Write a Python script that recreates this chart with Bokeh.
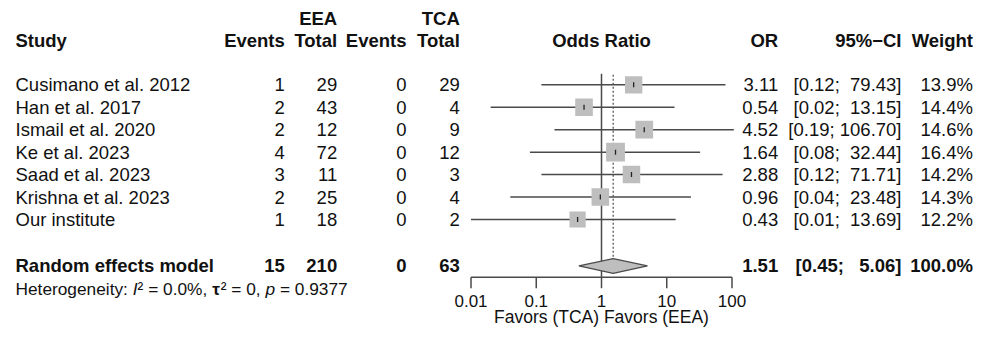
import numpy as np
from bokeh.plotting import figure
from bokeh.models import Range1d, LogScale
from bokeh.core.properties import value
from bokeh.embed import file_html
from bokeh.resources import INLINE

# ---------------- data ----------------
studies = ["Cusimano et al. 2012", "Han et al. 2017", "Ismail et al. 2020",
           "Ke et al. 2023", "Saad et al. 2023", "Krishna et al. 2023", "Our institute"]
eea_events = [1, 2, 2, 4, 3, 2, 1]
eea_total = [29, 43, 12, 72, 11, 25, 18]
tca_events = [0, 0, 0, 0, 0, 0, 0]
tca_total = [29, 4, 9, 12, 3, 4, 2]
odds_ratio = [3.11, 0.54, 4.52, 1.64, 2.88, 0.96, 0.43]
ci_lower = [0.12, 0.02, 0.19, 0.08, 0.12, 0.04, 0.01]
ci_upper = [79.43, 13.15, 106.70, 32.44, 71.71, 23.48, 13.69]
weights = [13.9, 14.4, 14.6, 16.4, 14.2, 14.3, 12.2]

model_label = "Random effects model"
model_eea_events = 15
model_eea_total = 210
model_tca_events = 0
model_tca_total = 63
model_or = 1.51
model_lower = 0.45
model_upper = 5.06
model_weight = 100.0

het_i2 = 0.0
het_tau2 = 0
het_p = 0.9377

axis_ticks = [0.01, 0.1, 1, 10, 100]
axis_tick_labels = ["0.01", "0.1", "1", "10", "100"]
axis_label = "Favors (TCA) Favors (EEA)"

header_top = ["EEA", "TCA"]
header_cols = ["Study", "Events", "Total", "Events", "Total", "Odds Ratio", "OR", "95%\u2212CI", "Weight"]

# ---------------- layout ----------------
W, H = 973, 329
ORIGIN = 0                    # screen offset of the figure origin
ROW_PX = 22.45                # px per row
ROW0_PX = 84.3                # screen y of first study row
DECADE_PX = 65.25             # px per decade of odds ratio
OR1_PX = 601.0                # screen x of OR = 1

X_STUDY, X_EEA_EV, X_EEA_TOT, X_TCA_EV, X_TCA_TOT = 15, 284.3, 336.7, 406.0, 459.3
X_OR, X_CI, X_W = 777.7, 901.0, 972.5

Y_HEAD1, Y_HEAD2 = -2.94, -1.97
Y_MODEL = 8.07
Y_HET = 9.09
Y_AXIS = 8.57
TICK_LEN = 0.49
Y_TICKLAB = 9.62
Y_XLAB = 10.36
DIAM_H = 0.325

FONT = value("Liberation Sans")
FS = "18.5px"
LINE = "#4a4a4a"
GREY = "#bebebe"
TXT = "#111111"

p = figure(width=W, height=H, output_backend="svg", toolbar_location=None,
           x_range=Range1d(ORIGIN, ORIGIN + W),
           y_range=Range1d((ORIGIN + H - ROW0_PX) / ROW_PX, (ORIGIN - ROW0_PX) / ROW_PX),
           min_border=0, outline_line_color=None)
p.extra_x_ranges = {"or": Range1d(10 ** ((ORIGIN - OR1_PX) / DECADE_PX),
                                  10 ** ((ORIGIN + W - OR1_PX) / DECADE_PX))}
p.extra_x_scales = {"or": LogScale()}
p.axis.visible = False
p.grid.visible = False
p.background_fill_color = "white"
p.border_fill_color = "white"

rows = list(range(len(studies)))


def txt(x, y, text, align="left", bold=False, size=FS, rng="default", style=None):
    n = len(text)
    xs = x if isinstance(x, list) else [x] * n
    ys = y if isinstance(y, list) else [y] * n
    p.text(x=xs, y=ys, text=text, text_font=FONT, text_font_size=size,
           text_align=align, text_baseline="middle", text_color=TXT,
           text_font_style=style if style else ("bold" if bold else "normal"),
           x_range_name=rng)


# headers
txt(X_EEA_TOT, Y_HEAD1, [header_top[0]], "right", True)
txt(X_TCA_TOT, Y_HEAD1, [header_top[1]], "right", True)
txt(X_STUDY, Y_HEAD2, [header_cols[0]], "left", True)
txt(X_EEA_EV, Y_HEAD2, [header_cols[1]], "right", True)
txt(X_EEA_TOT, Y_HEAD2, [header_cols[2]], "right", True)
txt(X_TCA_EV, Y_HEAD2, [header_cols[3]], "right", True)
txt(X_TCA_TOT, Y_HEAD2, [header_cols[4]], "right", True)
txt(1, Y_HEAD2, [header_cols[5]], "center", True, rng="or")
txt(X_OR, Y_HEAD2, [header_cols[6]], "right", True)
txt(X_CI, Y_HEAD2, [header_cols[7]], "right", True)
txt(X_W, Y_HEAD2, [header_cols[8]], "right", True)

# study rows
txt(X_STUDY, rows, studies, "left")
txt(X_EEA_EV, rows, [str(v) for v in eea_events], "right")
txt(X_EEA_TOT, rows, [str(v) for v in eea_total], "right")
txt(X_TCA_EV, rows, [str(v) for v in tca_events], "right")
txt(X_TCA_TOT, rows, [str(v) for v in tca_total], "right")

NB = "\u00a0"
up_width = max(len(f"{u:.2f}") for u in ci_upper + [model_upper])


def ci_str(lo, up):
    return "[" + f"{lo:.2f};" + NB + f"{up:.2f}".rjust(up_width).replace(" ", NB) + "]"


txt(X_OR, rows, [f"{v:.2f}" for v in odds_ratio], "right")
txt(X_CI, rows, [ci_str(l, u) for l, u in zip(ci_lower, ci_upper)], "right")
txt(X_W, rows, [f"{w:.1f}%" for w in weights], "right")

# model row
txt(X_STUDY, Y_MODEL, [model_label], "left", True)
txt(X_EEA_EV, Y_MODEL, [str(model_eea_events)], "right", True)
txt(X_EEA_TOT, Y_MODEL, [str(model_eea_total)], "right", True)
txt(X_TCA_EV, Y_MODEL, [str(model_tca_events)], "right", True)
txt(X_TCA_TOT, Y_MODEL, [str(model_tca_total)], "right", True)
txt(X_OR, Y_MODEL, [f"{model_or:.2f}"], "right", True)
txt(X_CI, Y_MODEL, [ci_str(model_lower, model_upper)], "right", True)
txt(X_W, Y_MODEL, [f"{model_weight:.1f}%"], "right", True)

# heterogeneity line in pieces (mixed styles)
CW = {"H": .722, "e": .556, "t": .278, "r": .333, "o": .556, "g": .556, "n": .556,
      "i": .222, "y": .5, ":": .278, " ": .278, "I": .278, "\u00b2": .333, "=": .584,
      ".": .278, "%": .889, ",": .278, "\u03c4": .5, "p": .556}
HET_PX = 17.3
pieces = [("Heterogeneity: ", "normal"), ("I", "italic"), ("\u00b2", "normal"),
          (f" = {het_i2:.1f}%, ", "normal"), ("\u03c4", "bold"), ("\u00b2", "normal"),
          (f" = {het_tau2}, ", "normal"), ("p", "italic"), (f" = {het_p:.4f}", "normal")]
cursor = X_STUDY
for s, st in pieces:
    lead = len(s) - len(s.lstrip(" "))
    start = cursor + lead * CW[" "] * HET_PX
    txt(start, Y_HET, [s.strip(" ")], "left", size=f"{HET_PX}px", style=st)
    cursor += sum(CW.get(c, .556) for c in s) * HET_PX

# forest: reference lines
p.segment(x0=[1], y0=[-0.49], x1=[1], y1=[Y_AXIS], x_range_name="or",
          line_color=LINE, line_width=1.5)
p.segment(x0=[model_or], y0=[-0.45], x1=[model_or], y1=[Y_MODEL - DIAM_H], x_range_name="or",
          line_color=LINE, line_width=1.2, line_dash="2 2")

# CIs, squares, centre ticks
p.segment(x0=ci_lower, y0=rows, x1=ci_upper, y1=rows, x_range_name="or",
          line_color=LINE, line_width=1.5)
p.scatter(x=odds_ratio, y=rows, marker="square", size=[4.65 * np.sqrt(w) for w in weights],
          fill_color=GREY, line_color=None, x_range_name="or")
p.scatter(x=odds_ratio, y=rows, marker="dash", angle=np.pi / 2, size=5,
          line_color="#222222", line_width=1.3, x_range_name="or")

# diamond
p.patch(x=[model_lower, model_or, model_upper, model_or],
        y=[Y_MODEL, Y_MODEL - DIAM_H, Y_MODEL, Y_MODEL + DIAM_H],
        x_range_name="or", fill_color=GREY, line_color=LINE, line_width=1.3)

# axis
p.segment(x0=[axis_ticks[0]], y0=[Y_AXIS], x1=[axis_ticks[-1]], y1=[Y_AXIS],
          x_range_name="or", line_color=LINE, line_width=1.5)
p.segment(x0=axis_ticks, y0=[Y_AXIS] * len(axis_ticks), x1=axis_ticks,
          y1=[Y_AXIS + TICK_LEN] * len(axis_ticks), x_range_name="or",
          line_color=LINE, line_width=1.5)
txt(axis_ticks, Y_TICKLAB, axis_tick_labels, "center", size="17px", rng="or")
txt(1, Y_XLAB, [axis_label], "center", size="17.5px", rng="or")

open("out.html", "w").write(file_html(p, INLINE))
